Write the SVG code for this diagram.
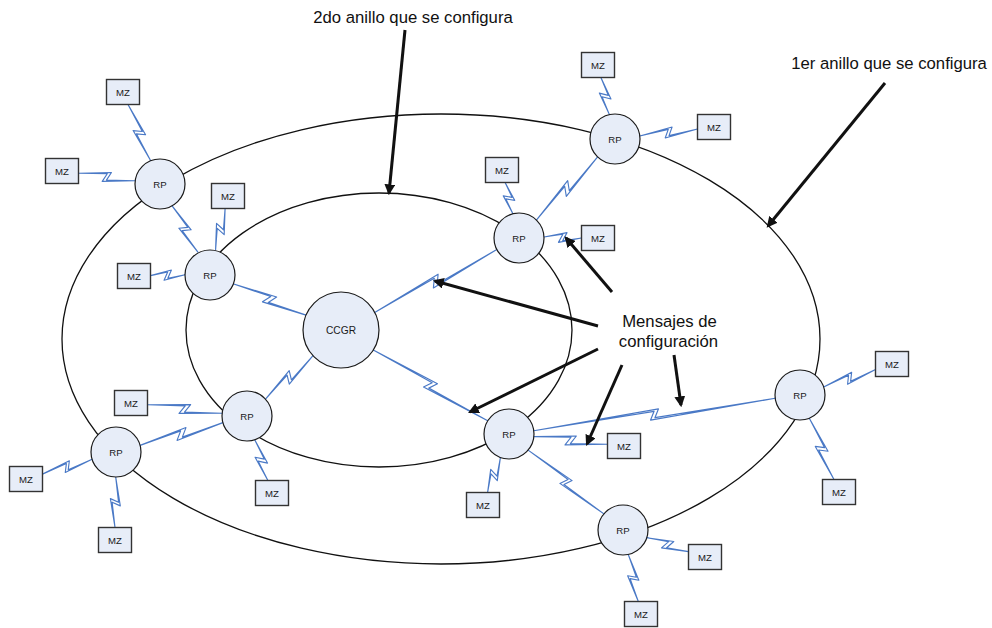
<svg xmlns="http://www.w3.org/2000/svg" xmlns:xlink="http://www.w3.org/1999/xlink" width="992" height="628" viewBox="0 0 992 628">
  <style>
    .ring { fill: none; stroke: #111; stroke-width: 1.3; }
    .node circle { fill: #e7edf8; stroke: #1a1a1a; stroke-width: 1.2; }
    .mz rect { fill: #e7edf8; stroke: #333; stroke-width: 1.4; }
    .lbl { font-family: "Liberation Sans", Arial, sans-serif; fill: #1a1a1a; text-anchor: middle; }
    .small { font-size: 9.6px; }
    .mid { font-size: 10.2px; }
    .big { font-size: 16.7px; fill: #111; }
    .bolt { fill: #fff; stroke: #4a79c6; stroke-width: 1.15; stroke-linejoin: round; vector-effect: non-scaling-stroke; }
    .call { stroke: #111; stroke-width: 3; fill: none; marker-end: url(#head); }
  </style>
  <defs>
    <!-- lightning-bolt radio link, unit length 100 along x; variants differ in zig width -->
    <path id="boltS" class="bolt" d="M0,0 L61,-5 L50,3.2 L100,0 L39,5 L50,-3.2 Z"/>
    <path id="boltM" class="bolt" d="M0,0 L57,-5 L50,3.2 L100,0 L43,5 L50,-3.2 Z"/>
    <path id="boltL" class="bolt" d="M0,0 L53.8,-5 L50,3.2 L100,0 L46.2,5 L50,-3.2 Z"/>
    <path id="boltX" class="bolt" d="M0,0 L51.9,-5 L50,3.2 L100,0 L48.1,5 L50,-3.2 Z"/>
    <marker id="head" viewBox="0 0 10 10" refX="8" refY="5" markerWidth="3.6" markerHeight="3.6" orient="auto">
      <path d="M0,0 L10,5 L0,10 Z" fill="#111"/>
    </marker>
  </defs>

  <rect width="992" height="628" fill="#fff"/>

  <!-- configuration rings -->
  <g id="rings">
    <ellipse id="ring1" class="ring" cx="441" cy="339" rx="379" ry="225"/>
    <ellipse id="ring2" class="ring" cx="379" cy="330" rx="193" ry="137"/>
  </g>

  <!-- radio links -->
  <g id="connectors">
    <use href="#boltM" transform="matrix(-0.227 -0.563 0.927 -0.374 150.7 160.8)"/>
    <use href="#boltM" transform="matrix(-0.567 -0.075 0.131 -0.991 135.2 180.7)"/>
    <use href="#boltM" transform="matrix(0.258 0.462 -0.873 0.488 172.1 205.9)"/>
    <use href="#boltS" transform="matrix(0.095 -0.411 0.974 0.225 215.6 249.6)"/>
    <use href="#boltS" transform="matrix(-0.345 0.009 -0.026 -1 185 274.7)"/>
    <use href="#boltM" transform="matrix(0.731 0.313 -0.394 0.919 233 283.8)"/>
    <use href="#boltL" transform="matrix(1.221 -0.631 0.459 0.889 374.7 312.6)"/>
    <use href="#boltL" transform="matrix(1.144 0.708 -0.526 0.851 373.3 350)"/>
    <use href="#boltM" transform="matrix(-0.475 0.434 -0.675 -0.739 313 355.7)"/>
    <use href="#boltS" transform="matrix(-0.078 -0.312 0.969 -0.242 512.9 213.7)"/>
    <use href="#boltS" transform="matrix(0.375 0.01 -0.027 1 544 237)"/>
    <use href="#boltM" transform="matrix(0.612 -0.632 0.718 0.695 536.4 220.1)"/>
    <use href="#boltS" transform="matrix(-0.085 -0.371 0.974 -0.223 609.4 114.6)"/>
    <use href="#boltM" transform="matrix(0.577 -0.07 0.12 0.993 639.8 136)"/>
    <use href="#boltM" transform="matrix(-0.747 -0.084 0.112 -0.993 222.2 413.2)"/>
    <use href="#boltS" transform="matrix(0.132 0.407 -0.951 0.308 254.7 439.8)"/>
    <use href="#boltM" transform="matrix(-0.828 0.228 -0.265 -0.964 222.9 422.6)"/>
    <use href="#boltM" transform="matrix(-0.496 0.149 -0.288 -0.958 92.1 459.2)"/>
    <use href="#boltM" transform="matrix(-0.007 0.505 -1 -0.014 115.7 477)"/>
    <use href="#boltS" transform="matrix(-0.128 0.35 -0.938 -0.343 500.4 457.5)"/>
    <use href="#boltM" transform="matrix(0.736 0.077 -0.104 0.995 533.9 436.6)"/>
    <use href="#boltX" transform="matrix(2.414 -0.324 0.133 0.991 533.8 430.7)"/>
    <use href="#boltL" transform="matrix(0.758 0.638 -0.644 0.765 528.1 450.1)"/>
    <use href="#boltM" transform="matrix(0.518 -0.174 0.319 0.949 823.7 387)"/>
    <use href="#boltM" transform="matrix(0.247 0.613 -0.927 0.374 809.3 418.2)"/>
    <use href="#boltS" transform="matrix(0.417 0.138 -0.314 0.95 646.8 537.8)"/>
    <use href="#boltM" transform="matrix(0.101 0.471 -0.977 0.21 628.2 554.4)"/>
  </g>

  <!-- central node -->
  <g id="ccgr" class="node">
    <circle cx="341" cy="330" r="38"/>
    <text class="lbl mid" x="341" y="333.7">CCGR</text>
  </g>

  <!-- routing points -->
  <g id="rp-a" class="node"><circle cx="160" cy="184" r="25"/><text class="lbl small" x="160" y="187.5">RP</text></g>
  <g id="rp-b" class="node"><circle cx="210" cy="275" r="25"/><text class="lbl small" x="210" y="278.5">RP</text></g>
  <g id="rp-c" class="node"><circle cx="519" cy="238" r="25"/><text class="lbl small" x="519" y="241.5">RP</text></g>
  <g id="rp-d" class="node"><circle cx="615" cy="139" r="25"/><text class="lbl small" x="615" y="142.5">RP</text></g>
  <g id="rp-e" class="node"><circle cx="247" cy="416" r="25"/><text class="lbl small" x="247" y="419.5">RP</text></g>
  <g id="rp-f" class="node"><circle cx="116" cy="452" r="25"/><text class="lbl small" x="116" y="455.5">RP</text></g>
  <g id="rp-g" class="node"><circle cx="509" cy="434" r="25"/><text class="lbl small" x="509" y="437.5">RP</text></g>
  <g id="rp-h" class="node"><circle cx="800" cy="395" r="25"/><text class="lbl small" x="800" y="398.5">RP</text></g>
  <g id="rp-i" class="node"><circle cx="623" cy="530" r="25"/><text class="lbl small" x="623" y="533.5">RP</text></g>

  <!-- mobile zones -->
  <g id="mz-1" class="mz"><rect x="106.5" y="79.5" width="33" height="25"/><text class="lbl small" x="123" y="95.5">MZ</text></g>
  <g id="mz-2" class="mz"><rect x="45.5" y="158.5" width="33" height="25"/><text class="lbl small" x="62" y="174.5">MZ</text></g>
  <g id="mz-3" class="mz"><rect x="211.5" y="183.5" width="33" height="25"/><text class="lbl small" x="228" y="199.5">MZ</text></g>
  <g id="mz-4" class="mz"><rect x="117.5" y="263.5" width="33" height="25"/><text class="lbl small" x="134" y="279.5">MZ</text></g>
  <g id="mz-5" class="mz"><rect x="485.5" y="157.5" width="33" height="25"/><text class="lbl small" x="502" y="173.5">MZ</text></g>
  <g id="mz-6" class="mz"><rect x="581.5" y="225.5" width="33" height="25"/><text class="lbl small" x="598" y="241.5">MZ</text></g>
  <g id="mz-7" class="mz"><rect x="581.5" y="52.5" width="33" height="25"/><text class="lbl small" x="598" y="68.5">MZ</text></g>
  <g id="mz-8" class="mz"><rect x="697.5" y="114.5" width="33" height="25"/><text class="lbl small" x="714" y="130.5">MZ</text></g>
  <g id="mz-9" class="mz"><rect x="114.5" y="390.5" width="33" height="25"/><text class="lbl small" x="131" y="406.5">MZ</text></g>
  <g id="mz-10" class="mz"><rect x="255.5" y="480.5" width="33" height="25"/><text class="lbl small" x="272" y="496.5">MZ</text></g>
  <g id="mz-11" class="mz"><rect x="9.5" y="466.5" width="33" height="25"/><text class="lbl small" x="26" y="482.5">MZ</text></g>
  <g id="mz-12" class="mz"><rect x="98.5" y="527.5" width="33" height="25"/><text class="lbl small" x="115" y="543.5">MZ</text></g>
  <g id="mz-13" class="mz"><rect x="466.5" y="492.5" width="33" height="25"/><text class="lbl small" x="483" y="508.5">MZ</text></g>
  <g id="mz-14" class="mz"><rect x="607.5" y="433.5" width="33" height="25"/><text class="lbl small" x="624" y="449.5">MZ</text></g>
  <g id="mz-15" class="mz"><rect x="875.5" y="351.5" width="33" height="25"/><text class="lbl small" x="892" y="367.5">MZ</text></g>
  <g id="mz-16" class="mz"><rect x="822.5" y="479.5" width="33" height="25"/><text class="lbl small" x="839" y="495.5">MZ</text></g>
  <g id="mz-17" class="mz"><rect x="688.5" y="544.5" width="33" height="25"/><text class="lbl small" x="705" y="560.5">MZ</text></g>
  <g id="mz-18" class="mz"><rect x="624.5" y="601.5" width="33" height="25"/><text class="lbl small" x="641" y="617.5">MZ</text></g>

  <!-- annotation arrows -->
  <g id="callouts">
    <line class="call" x1="405" y1="30" x2="389" y2="193"/>
    <line class="call" x1="885" y1="83" x2="768" y2="226"/>
    <line class="call" x1="612" y1="292" x2="566" y2="238"/>
    <line class="call" x1="598" y1="326" x2="435" y2="281"/>
    <line class="call" x1="598" y1="349" x2="470" y2="412"/>
    <line class="call" x1="622" y1="365" x2="587" y2="444"/>
    <line class="call" x1="674" y1="355" x2="681" y2="405"/>
  </g>

  <!-- annotation texts -->
  <g id="notes">
    <text class="lbl big" x="413" y="23">2do anillo que se configura</text>
    <text class="lbl big" x="889" y="69">1er anillo que se configura</text>
    <text class="lbl big" x="669.5" y="327">Mensajes de</text>
    <text class="lbl big" x="668.5" y="347">configuración</text>
  </g>
</svg>
